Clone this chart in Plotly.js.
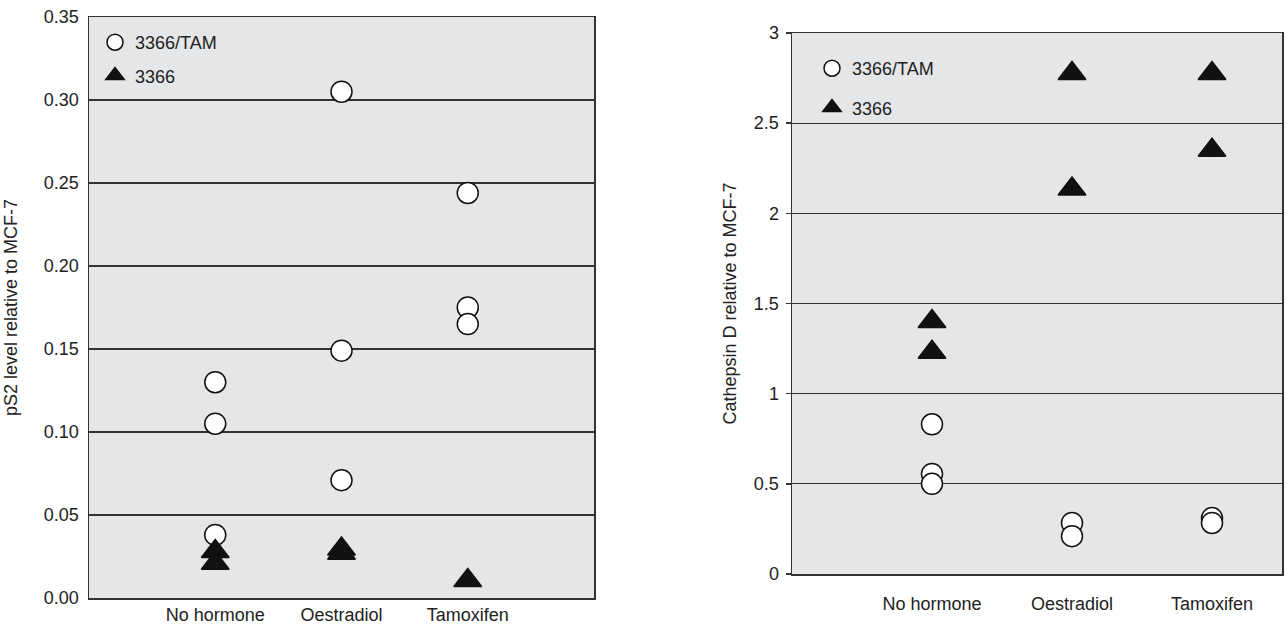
<!DOCTYPE html>
<html>
<head>
<meta charset="utf-8">
<script src="https://cdn.plot.ly/plotly-3.0.1.min.js"></script>
<style>html,body{margin:0;padding:0;background:#fff;}#chart{width:1287px;height:624px;}</style>
</head>
<body>
<div id="chart"></div>
<script>
// Categories
var categories = ['No hormone', 'Oestradiol', 'Tamoxifen'];
var seriesNames = ['3366/TAM', '3366'];

// Left panel: pS2 level relative to MCF-7
var ps2TamNoHormone = [0.130, 0.105, 0.038];
var ps2TamOestradiol = [0.305, 0.149, 0.071];
var ps2TamTamoxifen = [0.244, 0.175, 0.165];
var ps2NoHormone = [0.028, 0.021];
var ps2Oestradiol = [0.0295, 0.027];
var ps2Tamoxifen = [0.0105];

// Right panel: Cathepsin D relative to MCF-7
var catTamNoHormone = [0.83, 0.555, 0.50];
var catTamOestradiol = [0.283, 0.21];
var catTamTamoxifen = [0.31, 0.283];
var catNoHormone = [1.40, 1.23];
var catOestradiol = [2.775, 2.135];
var catTamoxifen = [2.775, 2.35];

// Tick labels
var ps2TickVals = [0, 0.05, 0.10, 0.15, 0.20, 0.25, 0.30, 0.35];
var ps2TickText = ['0.00', '0.05', '0.10', '0.15', '0.20', '0.25', '0.30', '0.35'];
var catTickVals = [0, 0.5, 1, 1.5, 2, 2.5, 3];
var catTickText = ['0', '0.5', '1', '1.5', '2', '2.5', '3'];

function group(groups) {
  var x = [], y = [];
  groups.forEach(function (vals, i) {
    vals.forEach(function (v) { x.push(categories[i]); y.push(v); });
  });
  return {x: x, y: y};
}

var circleMarker = {symbol: 'circle', size: 21, color: '#ffffff', line: {color: '#111111', width: 1.5}};
var triMarker = {symbol: 'triangle-up', size: 24, color: '#111111', line: {color: '#111111', width: 1.5}};

var l1 = group([ps2TamNoHormone, ps2TamOestradiol, ps2TamTamoxifen]);
var l2 = group([ps2NoHormone, ps2Oestradiol, ps2Tamoxifen]);
var r1 = group([catTamNoHormone, catTamOestradiol, catTamTamoxifen]);
var r2 = group([catNoHormone, catOestradiol, catTamoxifen]);

var data = [
  {type: 'scatter', mode: 'markers', name: seriesNames[0], x: l1.x, y: l1.y, xaxis: 'x', yaxis: 'y',
   marker: circleMarker, legend: 'legend', legendgroup: 'a', cliponaxis: false},
  {type: 'scatter', mode: 'markers', name: seriesNames[1], x: l2.x, y: l2.y, xaxis: 'x', yaxis: 'y',
   marker: triMarker, legend: 'legend', legendgroup: 'b', cliponaxis: false},
  {type: 'scatter', mode: 'markers', name: seriesNames[0], x: r1.x, y: r1.y, xaxis: 'x2', yaxis: 'y2',
   marker: circleMarker, legend: 'legend2', legendgroup: 'c', cliponaxis: false},
  {type: 'scatter', mode: 'markers', name: seriesNames[1], x: r2.x, y: r2.y, xaxis: 'x2', yaxis: 'y2',
   marker: triMarker, legend: 'legend2', legendgroup: 'd', cliponaxis: false}
];

var W = 1287, H = 624;
var fontFam = 'Liberation Sans, Arial, Helvetica, sans-serif';
var txtColor = '#222222';
var axLine = '#333333';

var layout = {
  width: W, height: H,
  margin: {l: 0, r: 0, t: 0, b: 0, pad: 0},
  paper_bgcolor: '#ffffff',
  plot_bgcolor: '#e5e6e8',
  font: {family: fontFam, size: 18, color: txtColor},
  showlegend: true,
  xaxis: {
    domain: [89 / W, 594 / W], anchor: 'y', type: 'category', categoryorder: 'array', categoryarray: categories,
    range: [-1, 3], showgrid: false, zeroline: false, showline: true, mirror: true,
    linecolor: axLine, linewidth: 1.5, ticks: '', ticklabelstandoff: 0, fixedrange: true
  },
  yaxis: {
    domain: [(H - 598) / H, (H - 17) / H], anchor: 'x', range: [0, 0.35],
    tickvals: ps2TickVals, ticktext: ps2TickText, showgrid: true, gridcolor: '#333333', gridwidth: 1.4,
    zeroline: false, showline: true, mirror: true, linecolor: axLine, linewidth: 1.5, ticks: '',
    ticklabelstandoff: 5,
    title: {text: 'pS2 level relative to MCF-7', standoff: 21, font: {size: 18}}
  },
  xaxis2: {
    domain: [792 / W, 1282 / W], anchor: 'y2', type: 'category', categoryorder: 'array', categoryarray: categories,
    range: [-1, 2.5], showgrid: false, zeroline: false, showline: true, mirror: true,
    linecolor: axLine, linewidth: 1.5, ticks: '', ticklabelstandoff: 13
  },
  yaxis2: {
    domain: [(H - 574) / H, (H - 33) / H], anchor: 'x2', range: [0, 3],
    tickvals: catTickVals, ticktext: catTickText, showgrid: true, gridcolor: '#333333', gridwidth: 1.3,
    zeroline: false, showline: true, mirror: true, linecolor: axLine, linewidth: 1.5,
    ticks: 'outside', ticklen: 5, tickcolor: axLine, tickwidth: 1.5, ticklabelstandoff: 3,
    title: {text: 'Cathepsin D relative to MCF-7', standoff: 12, font: {size: 18}}
  },
  legend: {
    x: 95 / W, xanchor: 'left', y: (H - 24) / H, yanchor: 'top', bgcolor: 'rgba(0,0,0,0)',
    font: {size: 18}, tracegroupgap: 7, itemsizing: 'trace'
  },
  legend2: {
    x: 812 / W, xanchor: 'left', y: (H - 50) / H, yanchor: 'top', bgcolor: 'rgba(0,0,0,0)',
    font: {size: 18}, tracegroupgap: 13, itemsizing: 'trace'
  }
};

Plotly.newPlot('chart', data, layout, {displayModeBar: false, staticPlot: true});
</script>
</body>
</html>
